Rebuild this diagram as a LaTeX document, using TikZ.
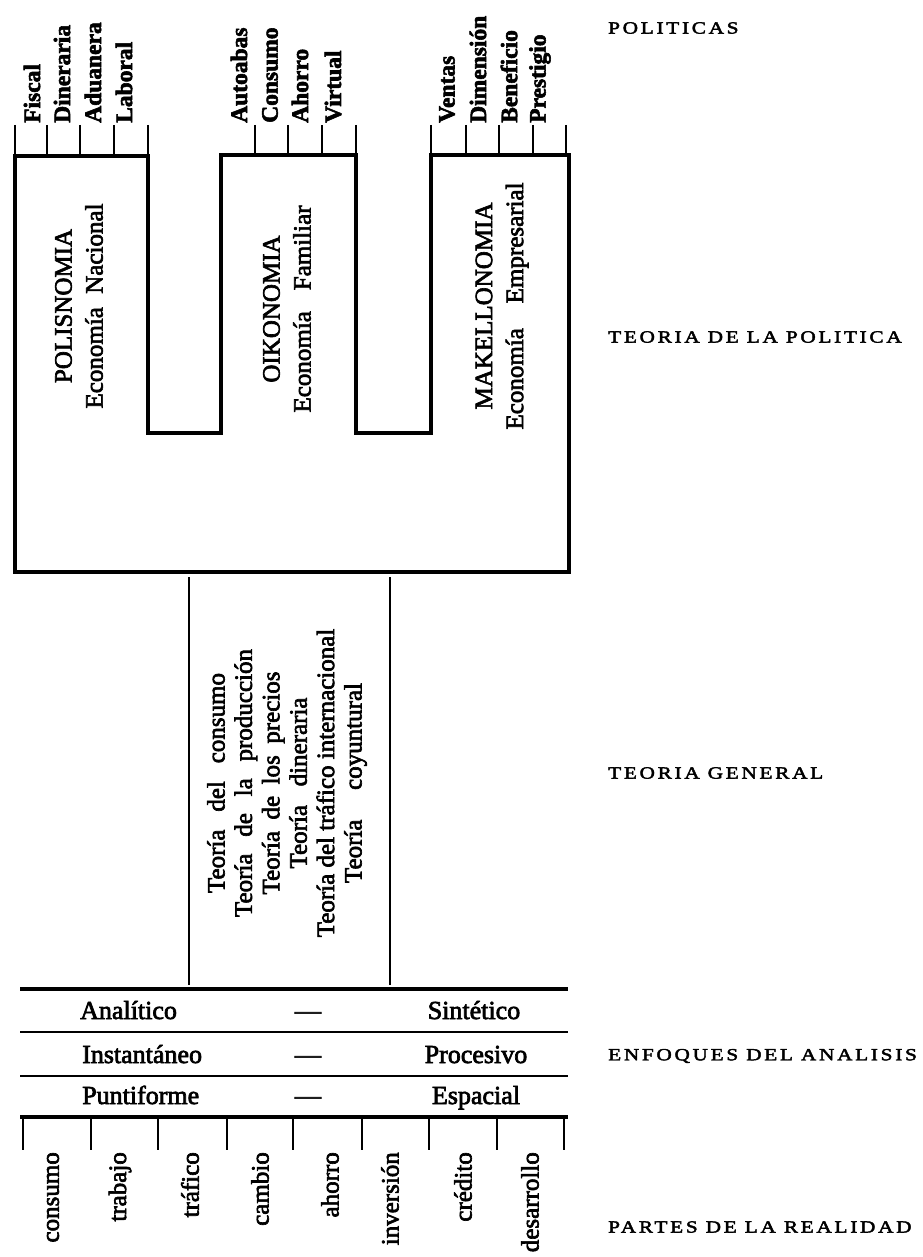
\documentclass[tikz,border=0pt]{standalone}
\usepackage{fontspec}
\setmainfont{Liberation Serif}[FakeBold=2.6,BoldFeatures={FakeBold=2.5}]
\newfontfamily\spacedcaps{Liberation Serif}[LetterSpace=16,FakeStretch=1.25,FakeBold=2.6]
\newcommand{\spread}[2]{\makebox[#1pt][s]{#2}}
\begin{document}
\begin{tikzpicture}[x=1pt,y=-1pt,
  frame/.style={line width=3.3pt,line join=miter},
  rule/.style={line width=3.2pt},
  thinrule/.style={line width=1.5pt},
  tick/.style={line width=1.6pt},
  polab/.style={rotate=90,inner sep=0pt,anchor=west,font=\bfseries\fontsize{23.5}{23.5}\selectfont},
  partlab/.style={rotate=90,inner sep=0pt,anchor=east,font=\fontsize{25}{25}\selectfont},
  rottext/.style={rotate=90,inner sep=0pt,align=center,font=\fontsize{25}{31}\selectfont},
  rowtext/.style={inner sep=0pt,anchor=base,font=\fontsize{26}{26}\selectfont},
  sidelab/.style={inner sep=0pt,anchor=west,font=\spacedcaps\fontsize{17}{17}\selectfont}]
\useasboundingbox (0,0) rectangle (922,1257);

% ---------- main frame (three economies) ----------
\coordinate (fBL) at (15,572);
\coordinate (fTL) at (15,156);
\coordinate (pTR) at (148,156);
\coordinate (pN) at (148,433);
\coordinate (oN) at (221,433);
\coordinate (oTL) at (221,155);
\coordinate (oTR) at (356,155);
\coordinate (oN2) at (356,433);
\coordinate (mN) at (431,433);
\coordinate (mTL) at (431,155);
\coordinate (mTR) at (569,155);
\coordinate (fBR) at (569,572);
\draw[frame] (fBL) -- (fTL) -- (pTR) -- (pN) -- (oN) -- (oTL) -- (oTR) -- (oN2) -- (mN) -- (mTL) -- (mTR) -- (fBR) -- cycle;

% ---------- policy ticks ----------
\foreach \x in {15,47,80,114,148} \draw[tick] (\x,125) -- (\x,156);
\foreach \x in {255,288,322,356} \draw[tick] (\x,125) -- (\x,155);
\foreach \x in {431,466,499,533,566} \draw[tick] (\x,125) -- (\x,155);

% ---------- policy labels ----------
\node[polab] (fiscal) at (32,123) {Fiscal};
\node[polab] (dineraria) at (62,123) {Dineraria};
\node[polab] (aduanera) at (93,123) {Aduanera};
\node[polab] (laboral) at (124,123) {Laboral};
\node[polab] (autoabas) at (239,123) {Autoabas};
\node[polab] (consumoP) at (270,123) {Consumo};
\node[polab] (ahorroP) at (300,123) {Ahorro};
\node[polab] (virtual) at (333,123) {Virtual};
\node[polab] (ventas) at (447,123) {Ventas};
\node[polab] (dimension) at (478,123) {Dimensión};
\node[polab] (beneficio) at (509,123) {Beneficio};
\node[polab] (prestigio) at (540,123) {Prestigio};

% ---------- economy names ----------
\node[rottext] (polis) at (79,306) {POLISNOMIA\\\spread{205}{Economía Nacional}};
\node[rottext] (oiko) at (287,309) {OIKONOMIA\\\spread{207}{Economía Familiar}};
\node[rottext] (makel) at (502,306) {MAKELLONOMIA\\\spread{247}{Economía Empresarial}};

% ---------- teoria general ----------
\coordinate (tgL1) at (189,577);
\coordinate (tgL2) at (189,985);
\coordinate (tgR1) at (390,577);
\coordinate (tgR2) at (390,985);
\draw[line width=2.6pt] (tgL1) -- (tgL2);
\draw[line width=2.6pt] (tgR1) -- (tgR2);
\node[rotate=90,inner sep=0pt,align=center,font=\fontsize{25}{27.4}\selectfont] (teorias) at (287,783)
  {\spread{220}{Teoría del consumo}\\\spread{268}{Teoría de la producción}\\\spread{223}{Teoría de los precios}\\\spread{171}{Teoría dineraria}\\Teoría del tráfico internacional\\\spread{200}{Teoría coyuntural}};

% ---------- enfoques ----------
\coordinate (r1L) at (20,989);   \coordinate (r1R) at (568,989);
\coordinate (r2L) at (20,1032);  \coordinate (r2R) at (568,1032);
\coordinate (r3L) at (20,1076);  \coordinate (r3R) at (568,1076);
\coordinate (r4L) at (20,1117);  \coordinate (r4R) at (568,1117);
\draw[rule] (r1L) -- (r1R);
\draw[thinrule] (r2L) -- (r2R);
\draw[thinrule] (r3L) -- (r3R);
\draw[rule] (r4L) -- (r4R);

\node[rowtext,anchor=base west] (analitico) at (80,1019) {Analítico};
\node[rowtext] (dash1) at (308,1019) {—};
\node[rowtext] (sintetico) at (474,1019) {Sintético};
\node[rowtext,anchor=base west] (instantaneo) at (82,1063) {Instantáneo};
\node[rowtext] (dash2) at (308,1063) {—};
\node[rowtext] (procesivo) at (476,1063) {Procesivo};
\node[rowtext,anchor=base west] (puntiforme) at (82,1104) {Puntiforme};
\node[rowtext] (dash3) at (308,1104) {—};
\node[rowtext] (espacial) at (476,1104) {Espacial};

% ---------- partes de la realidad ----------
\foreach \x in {23,91,158,227,293,362,429,497,564} \draw[tick] (\x,1118) -- (\x,1150);
\node[partlab] (consumo) at (53,1152) {consumo};
\node[partlab] (trabajo) at (120,1152) {trabajo};
\node[partlab] (trafico) at (190,1152) {tráfico};
\node[partlab] (cambio) at (260,1152) {cambio};
\node[partlab] (ahorro) at (330,1152) {ahorro};
\node[partlab] (inversion) at (390,1152) {inversión};
\node[partlab] (credito) at (463,1152) {crédito};
\node[partlab] (desarrollo) at (530,1152) {desarrollo};

% ---------- level names ----------
\node[sidelab] (lPoliticas) at (608,28) {POLITICAS};
\node[sidelab] (lTeoPol) at (608,337) {TEORIA DE LA POLITICA};
\node[sidelab] (lTeoGen) at (608,773) {TEORIA GENERAL};
\node[sidelab] (lEnfoques) at (608,1056) {ENFOQUES DEL ANALISIS};
\node[sidelab] (lPartes) at (608,1227) {PARTES DE LA REALIDAD};
\end{tikzpicture}
\end{document}
